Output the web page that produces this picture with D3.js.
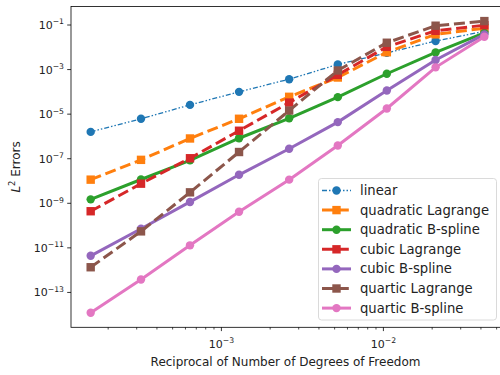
<!DOCTYPE html>
<html>
<head>
<meta charset="utf-8">
<script src="https://cdn.jsdelivr.net/npm/d3@7"></script>
<style>
  html, body { margin: 0; padding: 0; background: #fff; }
  svg { display: block; font-family: "DejaVu Sans", sans-serif; }
</style>
</head>
<body>
<svg id="chart" width="500" height="375"></svg>
<script>
// Mesh size h = 1 / (degrees of freedom) for each refinement level
const h = [1.56e-4, 3.19e-4, 6.40e-4, 1.285e-3, 2.62e-3, 5.23e-3, 1.05e-2, 2.10e-2, 4.20e-2];

// L2 errors for each discretisation
const linear          = [1.6e-6, 6.2e-6, 2.6e-5, 1.0e-4, 3.7e-4, 1.7e-3, 5.6e-3, 1.9e-2, 5.2e-2];
const quadLagrange    = [1.15e-8, 8.9e-8, 8.1e-7, 6.2e-6, 6.0e-5, 4.4e-4, 6.0e-3, 3.8e-2, 7.2e-2];
const quadBspline     = [1.5e-9, 1.17e-8, 8.5e-8, 8.3e-7, 6.5e-6, 5.8e-5, 6.5e-4, 5.9e-3, 4.4e-2];
const cubicLagrange   = [4.4e-10, 7.6e-9, 1.05e-7, 1.8e-6, 3.3e-5, 5.8e-4, 1.05e-2, 5.5e-2, 9.8e-2];
const cubicBspline    = [4.4e-12, 7.2e-11, 1.15e-9, 1.9e-8, 2.8e-7, 4.4e-6, 1.15e-4, 2.7e-3, 3.8e-2];
const quartLagrange   = [1.35e-12, 5.5e-11, 3.1e-9, 2.0e-7, 1.45e-5, 9.1e-4, 1.6e-2, 9.3e-2, 1.5e-1];
const quartBspline    = [1.23e-14, 3.8e-13, 1.3e-11, 4.2e-10, 1.15e-8, 3.9e-7, 1.8e-5, 1.26e-3, 2.95e-2];

const seriesNames = ["linear", "quadratic Lagrange", "quadratic B-spline", "cubic Lagrange",
                     "cubic B-spline", "quartic Lagrange", "quartic B-spline"];
const seriesValues = [linear, quadLagrange, quadBspline, cubicLagrange, cubicBspline, quartLagrange, quartBspline];
const seriesColors = ["#1f77b4", "#ff7f0e", "#2ca02c", "#d62728", "#9467bd", "#8c564b", "#e377c2"];
const seriesStyle  = ["dashdotdot", "dashed", "solid", "dashed", "solid", "dashed", "solid"];
const seriesMarker = ["circle", "square", "circle", "square", "circle", "square", "circle"];

const xTickExps = [-3, -2];
const yTickExps = [-13, -11, -9, -7, -5, -3, -1];

const svg = d3.select("#chart");
const plot = { left: 71, top: 6.5, bottom: 327.3 };

// log-space limits with 5% padding around the data
function paddedDomain(vals) {
  const lo = Math.log10(d3.min(vals)), hi = Math.log10(d3.max(vals));
  const m = (hi - lo) * 0.05;
  return [Math.pow(10, lo - m), Math.pow(10, hi + m)];
}
const xDom = paddedDomain(h);
const yDom = paddedDomain(seriesValues.flat());
const pxPerDecade = 162;
const plotRight = plot.left + pxPerDecade * (Math.log10(xDom[1]) - Math.log10(xDom[0]));

const x = d3.scaleLog().domain(xDom).range([plot.left, plotRight]);
const y = d3.scaleLog().domain(yDom).range([plot.bottom, plot.top]);

svg.append("defs").append("clipPath").attr("id", "clip")
  .append("rect").attr("x", plot.left).attr("y", plot.top)
  .attr("width", plotRight - plot.left).attr("height", plot.bottom - plot.top);

// superscript tick labels 10^n
function powLabel(sel, e, size) {
  sel.append("tspan").text("10");
  sel.append("tspan").attr("dy", -size * 0.42).attr("font-size", size * 0.7).text("\u2212" + Math.abs(e));
}

const tickSize = 11;
// x axis: major + minor ticks
const xAxisG = svg.append("g");
const minor = [];
for (let e = -5; e <= 0; e++) for (let k = 2; k <= 9; k++) {
  const v = k * Math.pow(10, e);
  if (v >= xDom[0] && v <= xDom[1]) minor.push(v);
}
xAxisG.selectAll("line.minor").data(minor).join("line")
  .attr("x1", d => x(d)).attr("x2", d => x(d))
  .attr("y1", plot.bottom).attr("y2", plot.bottom + 2.2)
  .attr("stroke", "#000").attr("stroke-width", 0.7);
xTickExps.forEach(e => {
  const xv = x(Math.pow(10, e));
  xAxisG.append("line").attr("x1", xv).attr("x2", xv)
    .attr("y1", plot.bottom).attr("y2", plot.bottom + 3.8)
    .attr("stroke", "#000").attr("stroke-width", 0.8);
  const t = xAxisG.append("text").attr("x", xv).attr("y", plot.bottom + 20.5)
    .attr("text-anchor", "middle").attr("font-size", tickSize).attr("fill", "#222");
  powLabel(t, e, tickSize);
});

// y axis
const yAxisG = svg.append("g");
yTickExps.forEach(e => {
  const yv = y(Math.pow(10, e));
  yAxisG.append("line").attr("x1", plot.left - 3.8).attr("x2", plot.left)
    .attr("y1", yv).attr("y2", yv).attr("stroke", "#000").attr("stroke-width", 0.8);
  const t = yAxisG.append("text").attr("x", plot.left - 7).attr("y", yv + 4)
    .attr("text-anchor", "end").attr("font-size", tickSize).attr("fill", "#222");
  powLabel(t, e, tickSize);
});

// axis labels
svg.append("text").attr("x", (plot.left + plotRight) / 2 - 2).attr("y", 366)
  .attr("text-anchor", "middle").attr("font-size", 12).attr("fill", "#222")
  .text("Reciprocal of Number of Degrees of Freedom");
const yl = svg.append("text")
  .attr("transform", `translate(20,${(plot.top + plot.bottom) / 2}) rotate(-90)`)
  .attr("text-anchor", "middle").attr("font-size", 12).attr("fill", "#222");
yl.append("tspan").attr("font-style", "italic").text("L");
yl.append("tspan").attr("dy", -5).attr("font-size", 8.4).text("2");
yl.append("tspan").attr("dy", 5).text(" Errors");

// line styles
function dashFor(style) {
  if (style === "dashed") return "11,4.8";
  if (style === "dashdotdot") return "5,2,1.5,2,1.5,2";
  return null;
}
function widthFor(style) { return style === "dashdotdot" ? 1.3 : 3; }

const line = d3.line().x((d, i) => x(h[i])).y(d => y(d));
const plotG = svg.append("g").attr("clip-path", "url(#clip)");

function drawMarker(g, kind, cx, cy, color) {
  if (kind === "circle") {
    g.append("circle").attr("cx", cx).attr("cy", cy).attr("r", 4.2).attr("fill", color);
  } else {
    g.append("rect").attr("x", cx - 4.2).attr("y", cy - 4.2).attr("width", 8.4).attr("height", 8.4).attr("fill", color);
  }
}

seriesValues.forEach((vals, s) => {
  const g = plotG.append("g");
  g.append("path").datum(vals).attr("d", line)
    .attr("fill", "none").attr("stroke", seriesColors[s])
    .attr("stroke-width", widthFor(seriesStyle[s]))
    .attr("stroke-dasharray", dashFor(seriesStyle[s]));
  vals.forEach((v, i) => drawMarker(g, seriesMarker[s], x(h[i]), y(v), seriesColors[s]));
});

// frame
svg.append("rect").attr("x", plot.left).attr("y", plot.top)
  .attr("width", plotRight - plot.left).attr("height", plot.bottom - plot.top)
  .attr("fill", "none").attr("stroke", "#000").attr("stroke-width", 0.8);

// legend
const lg = svg.append("g");
lg.append("rect").attr("x", 318.5).attr("y", 178.5).attr("width", 178).attr("height", 141.5)
  .attr("rx", 3).attr("fill", "#fff").attr("fill-opacity", 0.8)
  .attr("stroke", "#d0d0d0").attr("stroke-width", 0.8);
seriesNames.forEach((name, s) => {
  const ry = 190.5 + s * 19.6;
  lg.append("line").attr("x1", 322).attr("x2", 351).attr("y1", ry).attr("y2", ry)
    .attr("stroke", seriesColors[s]).attr("stroke-width", widthFor(seriesStyle[s]))
    .attr("stroke-dasharray", dashFor(seriesStyle[s]));
  drawMarker(lg, seriesMarker[s], 336.5, ry, seriesColors[s]);
  lg.append("text").attr("x", 360).attr("y", ry + 4.5).attr("font-size", 13.2).attr("fill", "#222").text(name);
});
</script>
</body>
</html>
